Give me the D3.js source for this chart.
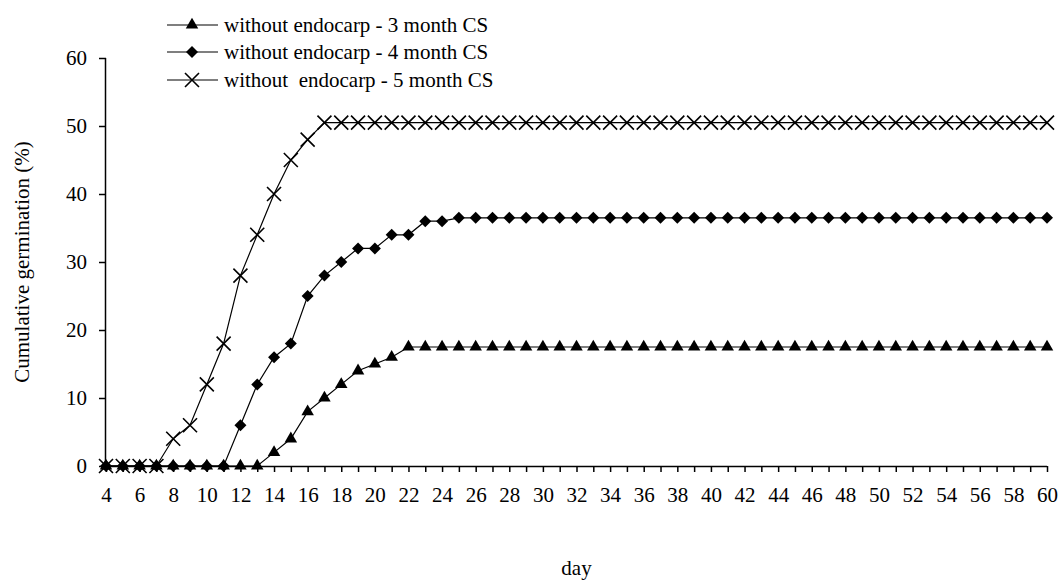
<!DOCTYPE html>
<html>
<head>
<meta charset="utf-8">
<script src="https://cdn.jsdelivr.net/npm/d3@7/dist/d3.min.js"></script>
<style>
  html, body { margin: 0; padding: 0; background: #fff; }
  svg text { font-family: "Liberation Serif", "Times New Roman", serif; fill: #000; }
</style>
</head>
<body>
<svg id="chart" width="1062" height="580"></svg>
<script>
const days = d3.range(4, 61);
const xTickLabels = d3.range(4, 61, 2);
const yTicks = [0, 10, 20, 30, 40, 50, 60];

const seriesNames = [
  "without endocarp - 3 month CS",
  "without endocarp - 4 month CS",
  "without  endocarp - 5 month CS"
];

// day 4 .. 60
const month3 = [0,0,0,0,0,0,0,0,0,0, 2,4,8,10,12,14,15,16,
  17.5,17.5,17.5,17.5,17.5,17.5,17.5,17.5,17.5,17.5,17.5,17.5,17.5,17.5,17.5,17.5,17.5,17.5,17.5,17.5,17.5,17.5,
  17.5,17.5,17.5,17.5,17.5,17.5,17.5,17.5,17.5,17.5,17.5,17.5,17.5,17.5,17.5,17.5,17.5];
const month4 = [0,0,0,0,0,0,0,0, 6,12,16,18,25,28,30,32,32,34,34,36,36,
  36.5,36.5,36.5,36.5,36.5,36.5,36.5,36.5,36.5,36.5,36.5,36.5,36.5,36.5,36.5,36.5,36.5,36.5,36.5,36.5,
  36.5,36.5,36.5,36.5,36.5,36.5,36.5,36.5,36.5,36.5,36.5,36.5,36.5,36.5,36.5,36.5];
const month5 = [0,0,0,0, 4,6,12,18,28,34,40,45,48,
  50.5,50.5,50.5,50.5,50.5,50.5,50.5,50.5,50.5,50.5,50.5,50.5,50.5,50.5,50.5,50.5,50.5,50.5,50.5,50.5,50.5,50.5,
  50.5,50.5,50.5,50.5,50.5,50.5,50.5,50.5,50.5,50.5,50.5,50.5,50.5,50.5,50.5,50.5,50.5,50.5,50.5,50.5,50.5,50.5];

const markers = ["triangle", "diamond", "cross"];
const seriesValues = [month3, month4, month5];

const svg = d3.select("#chart");
const mLeft = 106, mRight = 1047, mTop = 58, mBottom = 466;

const x = d3.scaleLinear().domain([4, 60]).range([mLeft, mRight]);
const y = d3.scaleLinear().domain([0, 60]).range([mBottom, mTop]);

const FS = 21;

// Y axis
const yAxis = svg.append("g").attr("transform", `translate(${mLeft},0)`)
  .call(d3.axisLeft(y).tickValues(yTicks).tickSize(7).tickPadding(12).tickFormat(d3.format("d")));
yAxis.select(".domain").attr("d", `M-0.5,${mTop}V${mBottom}`).attr("stroke", "#000").attr("stroke-width", 1.5);
yAxis.selectAll(".tick line").attr("stroke", "#000").attr("stroke-width", 1.5);
yAxis.selectAll("text").attr("font-size", FS).style("font-family", '"Liberation Serif", serif');

// X axis: ticks every day, labels every 2 days
const xAxis = svg.append("g").attr("transform", `translate(0,${mBottom})`)
  .call(d3.axisBottom(x).tickValues(days).tickSize(6).tickPadding(15)
    .tickFormat(d => xTickLabels.includes(d) ? String(d) : ""));
xAxis.select(".domain").attr("d", `M${mLeft},0.5H${mRight}`).attr("stroke", "#000").attr("stroke-width", 1.5);
xAxis.selectAll(".tick line").attr("stroke", "#000").attr("stroke-width", 1.5);
xAxis.selectAll("text").attr("font-size", FS).style("font-family", '"Liberation Serif", serif');

// Axis titles
svg.append("text")
  .attr("transform", `translate(29,${(mTop + mBottom) / 2}) rotate(-90)`)
  .attr("text-anchor", "middle").attr("font-size", FS)
  .text("Cumulative germination (%)");
svg.append("text")
  .attr("x", (mLeft + mRight) / 2).attr("y", 575)
  .attr("text-anchor", "middle").attr("font-size", FS)
  .text("day");

function drawMarker(g, type, cx, cy) {
  if (type === "triangle") {
    const s = 12.5, h = s * Math.sqrt(3) / 2;
    g.append("path")
      .attr("d", `M${cx},${cy - h * 2 / 3}L${cx + s / 2},${cy + h / 3}L${cx - s / 2},${cy + h / 3}Z`)
      .attr("fill", "#000");
  } else if (type === "diamond") {
    const r = 6;
    g.append("path")
      .attr("d", `M${cx},${cy - r}L${cx + r},${cy}L${cx},${cy + r}L${cx - r},${cy}Z`)
      .attr("fill", "#000");
  } else {
    const r = 7;
    g.append("path")
      .attr("d", `M${cx - r},${cy - r}L${cx + r},${cy + r}M${cx - r},${cy + r}L${cx + r},${cy - r}`)
      .attr("stroke", "#000").attr("stroke-width", 1.6).attr("fill", "none");
  }
}

const line = d3.line().x((d, i) => x(days[i])).y(d => y(d));

seriesValues.forEach((vals, si) => {
  const g = svg.append("g");
  g.append("path").attr("d", line(vals))
    .attr("fill", "none").attr("stroke", "#000").attr("stroke-width", 1.2);
  vals.forEach((v, i) => drawMarker(g, markers[si], x(days[i]), y(v)));
});

// Legend
const legendY = [25, 52, 80];
seriesNames.forEach((name, i) => {
  const g = svg.append("g");
  g.append("line").attr("x1", 167).attr("x2", 218).attr("y1", legendY[i]).attr("y2", legendY[i])
    .attr("stroke", "#000").attr("stroke-width", 1.2);
  drawMarker(g, markers[i], 192, legendY[i]);
  g.append("text").attr("x", 224).attr("y", legendY[i] + 6.5)
    .attr("font-size", FS).style("white-space", "pre").attr("xml:space", "preserve")
    .text(name);
});
</script>
</body>
</html>
